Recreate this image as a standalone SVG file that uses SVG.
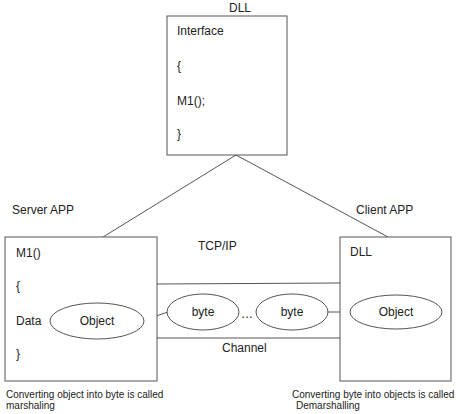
<svg xmlns="http://www.w3.org/2000/svg" width="460" height="414" viewBox="0 0 460 414">
<style>
text{font-family:"Liberation Sans",Arial,sans-serif;font-size:12px;fill:#222}
.s{font-size:10px}
.m{text-anchor:middle}
rect,ellipse{fill:#fff;stroke:#555;stroke-width:1}
line{stroke:#555;stroke-width:1}
</style>
<rect x="0" y="0" width="460" height="414" style="fill:#fff;stroke:none"/>
<g id="connectors">
<line x1="236" y1="155" x2="103" y2="237"/>
<line x1="236" y1="155" x2="388" y2="237"/>
<line x1="157" y1="284" x2="340" y2="283"/>
<line x1="157" y1="338" x2="340" y2="338"/>
<line x1="144" y1="320" x2="168" y2="312"/>
<line x1="328" y1="312" x2="350" y2="312"/>
</g>
<g id="dll">
<text x="240" y="12" class="m">DLL</text>
<rect x="167" y="16" width="120" height="139"/>
<text x="177" y="35">Interface</text>
<text x="177" y="70">{</text>
<text x="177" y="105">M1();</text>
<text x="177" y="138">}</text>
</g>
<g id="server">
<text x="12" y="214">Server APP</text>
<rect x="5" y="237" width="152" height="144"/>
<text x="16" y="257">M1()</text>
<text x="16" y="290">{</text>
<text x="16" y="325">Data</text>
<text x="16" y="358">}</text>
</g>
<g id="server-object">
<ellipse cx="97" cy="321" rx="47" ry="18"/>
<text x="97" y="325" class="m">Object</text>
</g>
<g id="byte1">
<ellipse cx="203" cy="312" rx="36" ry="18"/>
<text x="203" y="316" class="m">byte</text>
</g>
<text x="247" y="318" class="m">…</text>
<g id="byte2">
<ellipse cx="292" cy="312" rx="36" ry="18"/>
<text x="292" y="316" class="m">byte</text>
</g>
<g id="client">
<text x="356" y="214">Client APP</text>
<rect x="340" y="237" width="111" height="144"/>
<text x="350" y="256">DLL</text>
</g>
<g id="client-object">
<ellipse cx="396" cy="312" rx="46" ry="17"/>
<text x="396" y="316" class="m">Object</text>
</g>
<text x="198" y="250">TCP/IP</text>
<text x="222" y="352">Channel</text>
<text x="6" y="398" class="s">Converting object into byte is called</text>
<text x="6" y="409" class="s">marshaling</text>
<text x="292" y="398" class="s">Converting byte into objects is called</text>
<text x="296" y="409" class="s">Demarshalling</text>
</svg>
